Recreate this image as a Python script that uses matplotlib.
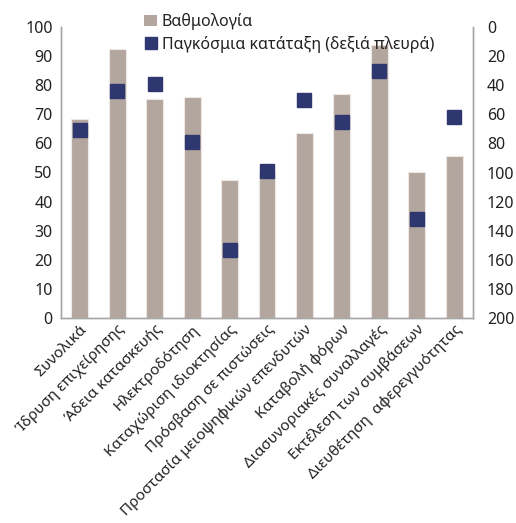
import numpy as np
import matplotlib
matplotlib.use('Agg')
import matplotlib.pyplot as plt
from matplotlib.lines import Line2D
from matplotlib.patches import Patch

plt.rcParams['font.family'] = ['Noto Sans', 'DejaVu Sans']

# Data
categories = ['Συνολικά', 'Ίδρυση επιχείρησης', 'Άδεια κατασκευής', 'Ηλεκτροδότηση',
              'Καταχώριση ιδιοκτησίας', 'Πρόσβαση σε πιστώσεις',
              'Προστασία μειοψηφικών επενδυτών', 'Καταβολή φόρων',
              'Διασυνοριακές συναλλαγές', 'Εκτέλεση των συμβάσεων',
              'Διευθέτηση  αφερεγγυότητας']
score = [68.3, 92.4, 75.4, 76.1, 47.5, 49.9, 63.5, 76.9, 93.9, 50.2, 55.6]
rank = [71, 44, 39, 79, 153, 99, 50, 65, 30, 132, 62]

bar_color = '#B3A69E'
sq_color = '#2E3770'
text_color = '#222222'
spine_color = '#A6A6A6'

fig = plt.figure(figsize=(5.16, 5.23), dpi=100)
ax = fig.add_axes([61/516, 1 - 318/523, 412/516, 291/523])
x = np.arange(len(categories))
ax.bar(x, score, width=0.45, color=bar_color, edgecolor='#EDE8E4', linewidth=0.8, zorder=2)
ax.set_ylim(0, 100)
ax.set_xlim(-0.5, len(categories) - 0.5)
ax.set_yticks(np.arange(0, 101, 10))
ax.set_xticks(x)
ax.tick_params(axis='y', length=0, labelsize=11.5, colors=text_color, pad=6)
ax.tick_params(axis='x', length=0, pad=3)
ax.set_xticklabels(categories, rotation=45, ha='right', rotation_mode='anchor', fontsize=11,
                   color=text_color)

ax2 = ax.twinx()
ax2.plot(x, rank, linestyle='none', marker='s', markersize=10.5, color=sq_color, zorder=3)
ax2.set_ylim(200, 0)
ax2.set_yticks(np.arange(0, 201, 20))
ax2.tick_params(axis='y', length=0, labelsize=11.5, colors=text_color, pad=10)

for a in (ax, ax2):
    a.spines['top'].set_visible(False)
    for s in ('left', 'right', 'bottom'):
        a.spines[s].set_color(spine_color)
        a.spines[s].set_linewidth(1.0)

handles = [Patch(facecolor=bar_color, label='Βαθμολογία'),
           Line2D([], [], linestyle='none', marker='s', markersize=9, color=sq_color,
                  label='Παγκόσμια κατάταξη (δεξιά πλευρά)')]
fig.legend(handles=handles, loc='upper left', bbox_to_anchor=(133/516, 1 - 2/523),
           frameon=False, fontsize=11.5, handlelength=0.8, handletextpad=0.3,
           labelspacing=0.35, borderpad=0.2, labelcolor=text_color)

plt.savefig('out.png', dpi=100)
plt.close(fig)
